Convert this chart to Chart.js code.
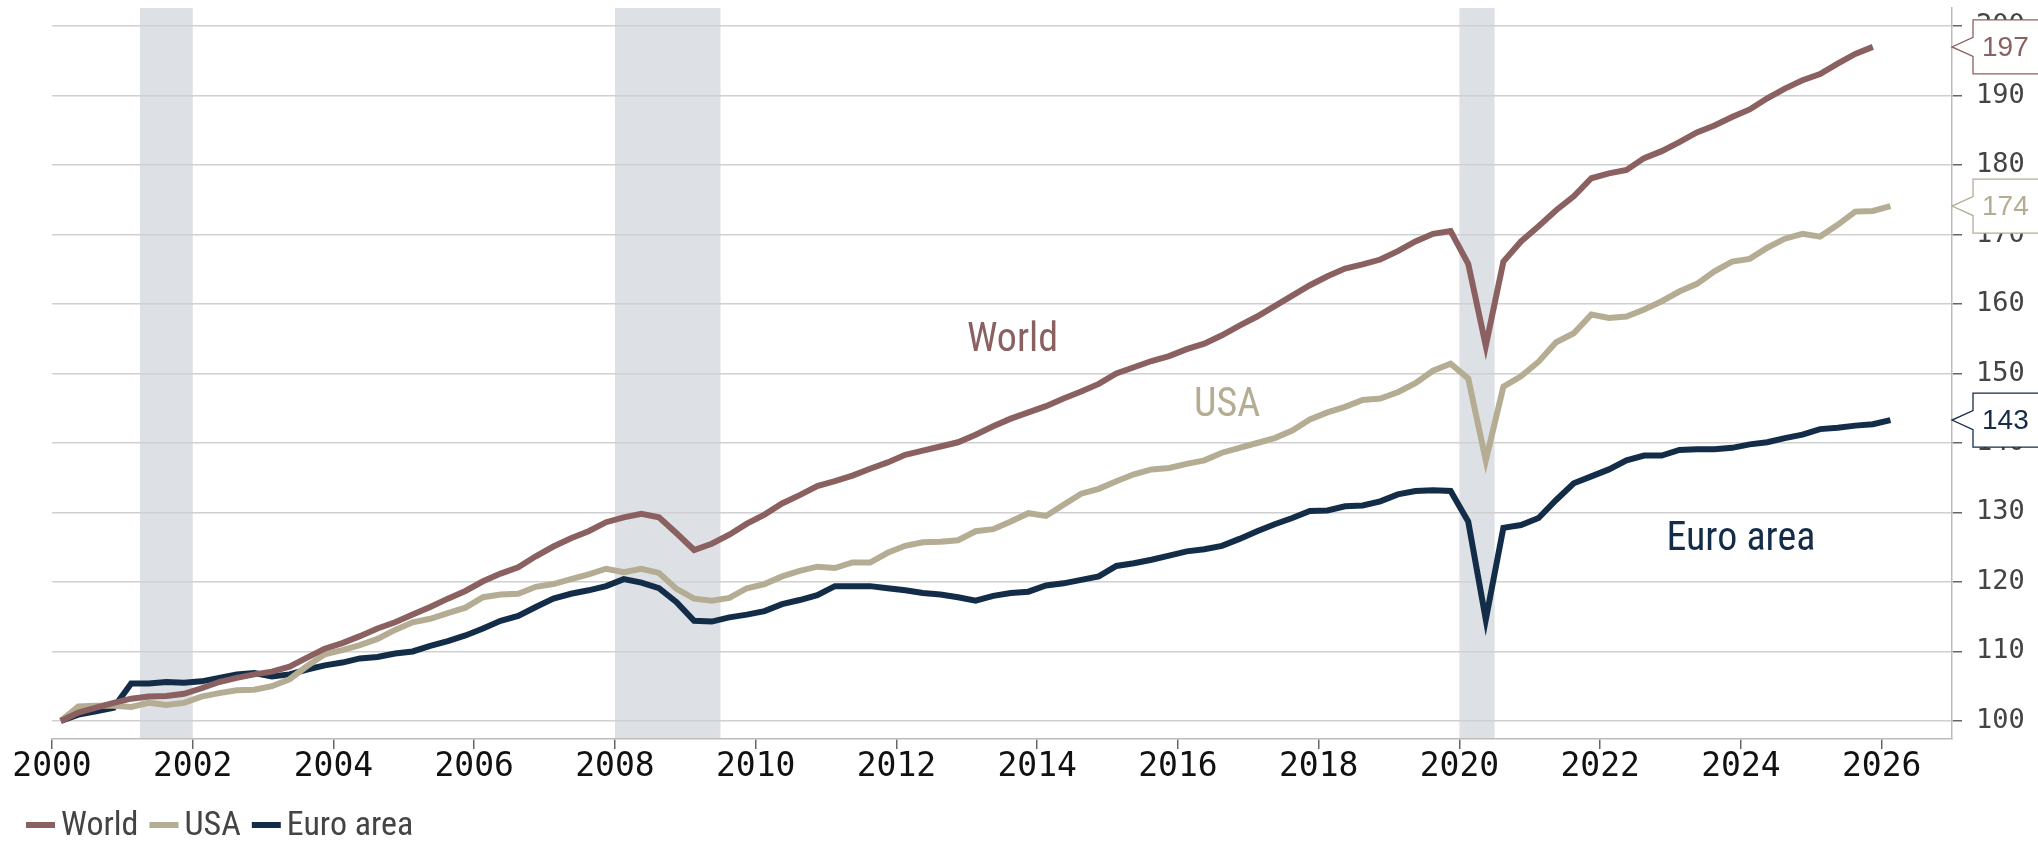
<!DOCTYPE html>
<html>
<head>
<meta charset="utf-8">
<script src="https://cdn.jsdelivr.net/npm/chart.js@4/dist/chart.umd.min.js"></script>
<style>
  html, body { margin: 0; padding: 0; background: #fff; }
  canvas { display: block; }
</style>
</head>
<body>
<canvas id="gdp-chart" width="2038" height="842"></canvas>
<script>
// quarters 2000Q1 .. 2026Q4
const quarters = [];
for (let y = 2000; y <= 2026; y++) {
    for (let q = 1; q <= 4; q++) quarters.push(y + 'Q' + q);
}

// index, 2000Q1 = 100
const world = [
    100, 101.2, 101.9, 102.6, 103.2, 103.5, 103.6, 103.9, 104.7, 105.6,
    106.2, 106.7, 107.1, 107.8, 109.1, 110.4, 111.2, 112.2, 113.3, 114.2,
    115.3, 116.4, 117.6, 118.7, 120.1, 121.2, 122.1, 123.7, 125.1, 126.3,
    127.3, 128.6, 129.3, 129.8, 129.3, 127.0, 124.6, 125.5, 126.8, 128.4,
    129.7, 131.3, 132.5, 133.8, 134.5, 135.3, 136.3, 137.2, 138.3, 138.9,
    139.5, 140.1, 141.2, 142.4, 143.5, 144.4, 145.3, 146.4, 147.4, 148.5,
    150.0, 150.9, 151.8, 152.5, 153.5, 154.3, 155.5, 156.9, 158.2, 159.7,
    161.2, 162.7, 164.0, 165.1, 165.7, 166.4, 167.6, 169.0, 170.1, 170.5,
    165.8, 154.0, 166.1, 169.0, 171.2, 173.5, 175.5, 178.1, 178.8, 179.3,
    181.0, 182.0, 183.3, 184.7, 185.7, 186.9, 188.0, 189.6, 191.0, 192.2,
    193.1, 194.6, 196.0, 197.0
];
const usa = [
    100, 102.1, 102.2, 102.2, 102.0, 102.6, 102.3, 102.6, 103.5, 104.0,
    104.4, 104.5, 105.0, 106.0, 107.9, 109.6, 110.2, 110.9, 111.8, 113.1,
    114.2, 114.7, 115.5, 116.3, 117.8, 118.2, 118.3, 119.3, 119.7, 120.4,
    121.1, 121.9, 121.4, 121.9, 121.3, 119.0, 117.6, 117.3, 117.7, 119.1,
    119.7, 120.8, 121.6, 122.2, 122.0, 122.8, 122.8, 124.2, 125.2, 125.7,
    125.8, 126.0, 127.3, 127.6, 128.7, 129.9, 129.5, 131.1, 132.7, 133.4,
    134.5, 135.5, 136.2, 136.4, 137.0, 137.5, 138.6, 139.3, 140.0, 140.7,
    141.8, 143.4, 144.4, 145.2, 146.2, 146.4, 147.3, 148.6, 150.4, 151.4,
    149.3, 137.5, 148.1, 149.6, 151.7, 154.5, 155.8, 158.5, 158.0, 158.2,
    159.2, 160.4, 161.8, 162.9, 164.7, 166.1, 166.5, 168.1, 169.4, 170.1,
    169.7, 171.4, 173.3, 173.4, 174.1
];
const euroArea = [
    100, 100.9, 101.4, 101.9, 105.4, 105.4, 105.6, 105.5, 105.7, 106.2,
    106.7, 106.9, 106.4, 106.7, 107.4, 108.0, 108.4, 109.0, 109.2, 109.7,
    110.0, 110.8, 111.5, 112.3, 113.3, 114.4, 115.1, 116.4, 117.6, 118.3,
    118.8, 119.4, 120.4, 119.9, 119.1, 117.1, 114.4, 114.3, 114.9, 115.3,
    115.8, 116.8, 117.4, 118.1, 119.4, 119.4, 119.4, 119.1, 118.8, 118.4,
    118.2, 117.8, 117.3, 118.0, 118.4, 118.6, 119.5, 119.8, 120.3, 120.8,
    122.3, 122.7, 123.2, 123.8, 124.4, 124.7, 125.2, 126.2, 127.3, 128.3,
    129.2, 130.2, 130.3, 130.9, 131.0, 131.6, 132.6, 133.1, 133.2, 133.1,
    128.7, 114.6, 127.8, 128.2, 129.2, 131.8, 134.2, 135.2, 136.2, 137.5,
    138.2, 138.2, 139.0, 139.1, 139.1, 139.3, 139.8, 140.1, 140.7, 141.2,
    142.0, 142.2, 142.5, 142.7, 143.3
];

// recessions (start, end in years)
const recessions = [[2001.25, 2002.0], [2008.0, 2009.5], [2020.0, 2020.5]];

const xTicks = [2000, 2002, 2004, 2006, 2008, 2010, 2012, 2014, 2016, 2018, 2020, 2022, 2024, 2026];
const yTicks = [100, 110, 120, 130, 140, 150, 160, 170, 180, 190, 200];

const seriesNames = ['World', 'USA', 'Euro area'];
const colors = ['#8b6060', '#b5ad93', '#132d49'];

const NARROW = "'Liberation Sans Narrow', 'Arial Narrow', 'Roboto Condensed', 'Liberation Sans', sans-serif";
const MONO = "'DejaVu Sans Mono', monospace";

// "2000Q1" -> 2000.125 (middle of the quarter)
function quarterToX(label) {
    const year = parseInt(label.slice(0, 4), 10);
    const q = parseInt(label.slice(5), 10);
    return year + (q - 0.5) / 4;
}

function toPoints(values) {
    return values.map((v, i) => ({ x: quarterToX(quarters[i]), y: v }));
}

// grey bars for the recessions, under the grid
const recessionPlugin = {
    id: 'recessions',
    beforeDraw(chart) {
        const { ctx, chartArea, scales } = chart;
        ctx.save();
        ctx.fillStyle = '#dde0e5';
        recessions.forEach(([a, b]) => {
            const x1 = scales.x.getPixelForValue(a);
            const x2 = scales.x.getPixelForValue(b);
            ctx.fillRect(x1, chartArea.top, x2 - x1, chartArea.bottom - chartArea.top);
        });
        ctx.restore();
    }
};

// names inside the plot
const seriesLabels = [
    { text: 'World', x: 2013.65, y: 154.7, color: colors[0] },
    { text: 'USA', x: 2016.7, y: 145.3, color: colors[1] },
    { text: 'Euro area', x: 2024.0, y: 126.1, color: colors[2] }
];

// labels in the plot, boxes with the last value, legend at the bottom
const annotationPlugin = {
    id: 'annotations',
    afterDraw(chart) {
        const { ctx, chartArea, scales } = chart;
        ctx.save();
        seriesLabels.forEach(l => {
            ctx.font = '40px ' + NARROW;
            ctx.fillStyle = l.color;
            ctx.textAlign = 'center';
            ctx.textBaseline = 'middle';
            ctx.fillText(l.text, scales.x.getPixelForValue(l.x), scales.y.getPixelForValue(l.y));
        });

        chart.data.datasets.forEach(ds => {
            const last = ds.data[ds.data.length - 1].y;
            const yc = scales.y.getPixelForValue(last);
            const tip = chartArea.right;
            const left = tip + 21;
            const right = chart.width + 20;
            const top = yc - 27, bottom = yc + 27;
            ctx.beginPath();
            ctx.moveTo(left, top);
            ctx.lineTo(left, yc - 9.5);
            ctx.lineTo(tip, yc);
            ctx.lineTo(left, yc + 9.5);
            ctx.lineTo(left, bottom);
            ctx.lineTo(right, bottom);
            ctx.lineTo(right, top);
            ctx.closePath();
            ctx.fillStyle = '#fff';
            ctx.fill();
            ctx.lineWidth = 1.3;
            ctx.strokeStyle = ds.borderColor;
            ctx.stroke();
            ctx.font = "28px 'Liberation Sans', Arial, sans-serif";
            ctx.fillStyle = ds.borderColor;
            ctx.textAlign = 'left';
            ctx.textBaseline = 'middle';
            ctx.fillText(Math.round(last).toString(), left + 9, yc + 1);
        });

        // legend
        let x = 26;
        const yc = 825;
        ctx.font = '34px ' + NARROW;
        ctx.textAlign = 'left';
        ctx.textBaseline = 'middle';
        chart.data.datasets.forEach(ds => {
            ctx.fillStyle = ds.borderColor;
            ctx.fillRect(x, yc - 3, 29, 6);
            x += 29 + 6;
            ctx.fillStyle = '#444';
            ctx.fillText(ds.label, x, yc + 1);
            x += ctx.measureText(ds.label).width + 11;
        });
        ctx.restore();
    }
};

const ctx = document.getElementById('gdp-chart').getContext('2d');
const seriesValues = [world, usa, euroArea];

new Chart(ctx, {
    type: 'line',
    data: {
        datasets: seriesValues.map((vals, i) => ({
            label: seriesNames[i],
            data: toPoints(vals),
            borderColor: colors[i],
            backgroundColor: colors[i],
            borderWidth: 6,
            pointRadius: 0,
            tension: 0,
            borderJoinStyle: 'miter'
        }))
    },
    options: {
        responsive: false,
        animation: false,
        layout: { padding: { left: 52, top: 8, right: 0, bottom: 42 } },
        scales: {
            x: {
                type: 'linear',
                position: 'bottom',
                min: 2000,
                max: 2027,
                afterBuildTicks: s => { s.ticks = xTicks.map(v => ({ value: v })); },
                afterFit: s => {
                    s.height = 61;
                    s.paddingLeft = 0;
                    s.paddingRight = 0;
                },
                ticks: {
                    callback: v => String(v),
                    font: { family: MONO, size: 33 },
                    color: '#111',
                    padding: -1,
                    maxRotation: 0,
                    autoSkip: false
                },
                grid: { drawOnChartArea: false, tickLength: 10, tickColor: '#666', lineWidth: 1.5 },
                border: { color: '#bbb', width: 1.5 }
            },
            y: {
                position: 'right',
                min: 97.4,
                max: 202.6,
                afterBuildTicks: s => { s.ticks = yTicks.map(v => ({ value: v })); },
                afterFit: s => {
                    s.width = 86;
                    s.paddingTop = 0;
                    s.paddingBottom = 0;
                },
                ticks: {
                    font: { family: MONO, size: 27 },
                    color: '#444',
                    padding: 14
                },
                grid: { color: '#d0d0d0', lineWidth: 1.5, tickLength: 10, tickColor: '#666' },
                border: { color: '#bbb', width: 1.5 }
            }
        },
        plugins: {
            legend: { display: false },
            tooltip: { enabled: false }
        }
    },
    plugins: [recessionPlugin, annotationPlugin]
});
</script>
</body>
</html>
